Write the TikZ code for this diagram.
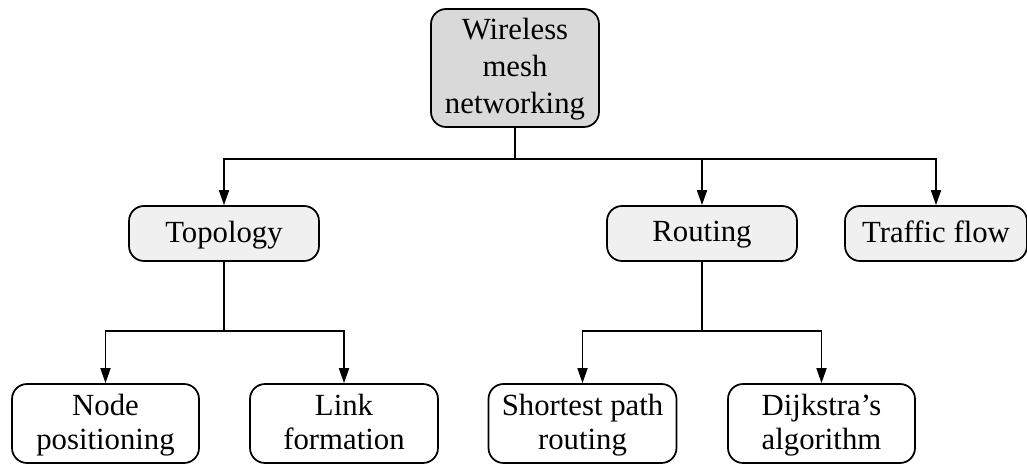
\documentclass[tikz,border=0pt]{standalone}
\usepackage{fontspec}
\setmainfont{Liberation Serif}
\usetikzlibrary{shapes, arrows.meta, positioning}

\definecolor{rootgray}{RGB}{217,217,217}
\definecolor{midgray}{RGB}{240,240,240}

\tikzset{
box/.style={draw, line width=1pt, rounded corners=0.3cm, align=center, inner sep=0pt,
  minimum width=3.76cm, text depth=0.22em, font=\fontsize{17.5}{19.3}\selectfont},
midbox/.style={box, fill=midgray, minimum height=1.1cm},
leafbox/.style={box, fill=white, minimum height=1.58cm},
link/.style={line width=1pt},
arr/.style={link, -{Triangle[length=0.3cm, width=0.2cm]}}
}

\begin{document}
\begin{tikzpicture}[x=0.02cm, y=-0.02cm]
\useasboundingbox (0,0) rectangle (1027,465);

\node[box, fill=rootgray, minimum width=3.36cm, minimum height=2.36cm,
  font=\fontsize{17.5}{21}\selectfont] (wmn) at (515,68) {Wireless\\mesh\\networking};

\node[midbox, minimum width=3.8cm] (topo) at (224,233.5) {Topology};
\node[midbox, minimum width=3.8cm] (rout) at (702,233.5) {Routing};
\node[midbox, minimum width=3.64cm] (traf) at (936,233.5) {Traffic flow};

\node[leafbox, minimum width=3.74cm] (npos) at (105.5,423.5) {Node\\positioning};
\node[leafbox] (lform) at (344,423.5) {Link\\formation};
\node[leafbox] (spr) at (582.5,423.5) {Shortest path\\routing};
\node[leafbox, minimum width=3.74cm] (dijk) at (821.5,423.5) {Dijkstra’s\\algorithm};

\coordinate (busA) at (515,159);
\coordinate (busB) at (224,331);
\coordinate (busC) at (702,331);

\draw[link] (wmn.south) -- (busA);
\draw[link] (topo.south) -- (busB);
\draw[link] (rout.south) -- (busC);

\foreach \from/\to in {busA/topo, busA/rout, busA/traf, busB/npos, busB/lform, busC/spr, busC/dijk} {
\draw[arr] (\from) -| (\to.north);
}

\end{tikzpicture}
\end{document}
